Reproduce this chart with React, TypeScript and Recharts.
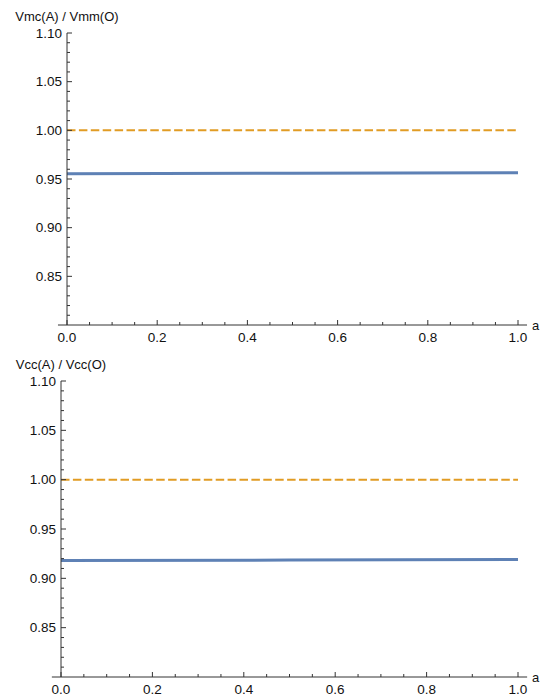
import { LineChart, Line, XAxis, YAxis, ReferenceLine } from "recharts";

// a from 0 to 1, ratios
const aValues = [0, 0.5, 1];
const vmcRatio = [0.9555, 0.956, 0.9565];
const vccRatio = [0.918, 0.9185, 0.919];
const unitRatio = [1, 1, 1];

const xMajorTicks = [0, 0.2, 0.4, 0.6, 0.8, 1.0];
const yMajorTicks = [0.85, 0.9, 0.95, 1.0, 1.05, 1.1];
const yDomain: [number, number] = [0.8, 1.1];

const FONT = '"Liberation Sans", Arial, sans-serif';
const INK = "#333";
const TEXT = "#111";
const BLUE = "#5e81b5";
const ORANGE = "#e19c24";

// minor ticks every 0.05 on a and every 0.01 on the ratio
const xTicks = Array.from({ length: 21 }, (_, i) => Math.round(i * 5) / 100);
const yTicks = Array.from({ length: 30 }, (_, i) => Math.round(81 + i) / 100);

const isXMajor = (v: number) => xMajorTicks.some((t) => Math.abs(t - v) < 1e-6);
const isYMajor = (v: number) => yMajorTicks.some((t) => Math.abs(t - v) < 1e-6);

function XTick(props: any) {
  const { x, y, payload } = props;
  const v = payload.value;
  const major = isXMajor(v);
  return (
    <g>
      <line x1={x} x2={x} y1={y} y2={y - (major ? 5 : 3)} stroke={INK} strokeWidth={1} />
      {major && (
        <text x={x} y={y + 12} textAnchor="middle" dominantBaseline="central" fontSize={13.5} fontFamily={FONT} fill={TEXT}>
          {v.toFixed(1)}
        </text>
      )}
    </g>
  );
}

function YTick(props: any) {
  const { x, y, payload } = props;
  const v = payload.value;
  const major = isYMajor(v);
  return (
    <g>
      <line x1={x} x2={x + (major ? 5 : 3)} y1={y} y2={y} stroke={INK} strokeWidth={1} />
      {major && (
        <text x={x - 5} y={y} textAnchor="end" dominantBaseline="central" fontSize={13.5} fontFamily={FONT} fill={TEXT}>
          {v.toFixed(2)}
        </text>
      )}
    </g>
  );
}

type PanelProps = {
  ratio: number[];
  title: string;
  top: number;
  height: number;
  marginTop: number;
  marginBottom: number;
  axisWidth: number;
  titleY: number;
  axisY: number;
};

function Panel({ ratio, title, top, height, marginTop, marginBottom, axisWidth, titleY, axisY }: PanelProps) {
  const data = aValues.map((a, i) => ({ a, ratio: ratio[i], unit: unitRatio[i] }));
  const labelStyle: React.CSSProperties = {
    position: "absolute",
    fontFamily: FONT,
    fontSize: 13,
    lineHeight: 1,
    color: TEXT,
    whiteSpace: "nowrap",
  };
  return (
    <div style={{ position: "absolute", left: 0, top, width: 548, height }}>
      <LineChart
        width={548}
        height={height}
        data={data}
        margin={{ top: marginTop, right: 30, bottom: marginBottom, left: 0 }}
      >
        <XAxis
          dataKey="a"
          type="number"
          domain={[0, 1]}
          ticks={xTicks}
          interval={0}
          height={20}
          axisLine={false}
          tickLine={false}
          tickSize={0}
          tickMargin={0}
          tick={<XTick />}
        />
        <YAxis
          type="number"
          domain={yDomain}
          ticks={yTicks}
          interval={0}
          width={axisWidth}
          axisLine={{ stroke: INK }}
          tickLine={false}
          tickSize={0}
          tickMargin={0}
          tick={<YTick />}
          allowDataOverflow
        />
        <ReferenceLine
          segment={[
            { x: -0.02, y: 0.8 },
            { x: 1.02, y: 0.8 },
          ]}
          stroke={INK}
          ifOverflow="visible"
        />
        <Line
          type="linear"
          dataKey="unit"
          stroke={ORANGE}
          strokeWidth={2}
          strokeDasharray="8.5 3.4"
          dot={false}
          isAnimationActive={false}
        />
        <Line
          type="linear"
          dataKey="ratio"
          stroke={BLUE}
          strokeWidth={3}
          dot={false}
          isAnimationActive={false}
        />
      </LineChart>
      <div style={{ ...labelStyle, left: axisWidth, top: titleY, transform: "translate(-50%, -50%)" }}>{title}</div>
      <div style={{ ...labelStyle, left: 532, top: axisY, transform: "translateY(-50%)" }}>a</div>
    </div>
  );
}

export default function App() {
  return (
    <div style={{ position: "absolute", left: 0, top: 0, width: 548, height: 698, background: "#fff" }}>
      <Panel
        ratio={vmcRatio}
        title="Vmc(A) / Vmm(O)"
        top={0}
        height={345}
        marginTop={33}
        marginBottom={0}
        axisWidth={67}
        titleY={16}
        axisY={325}
      />
      <Panel
        ratio={vccRatio}
        title="Vcc(A) / Vcc(O)"
        top={345}
        height={353}
        marginTop={36}
        marginBottom={1}
        axisWidth={61}
        titleY={19}
        axisY={332}
      />
    </div>
  );
}
